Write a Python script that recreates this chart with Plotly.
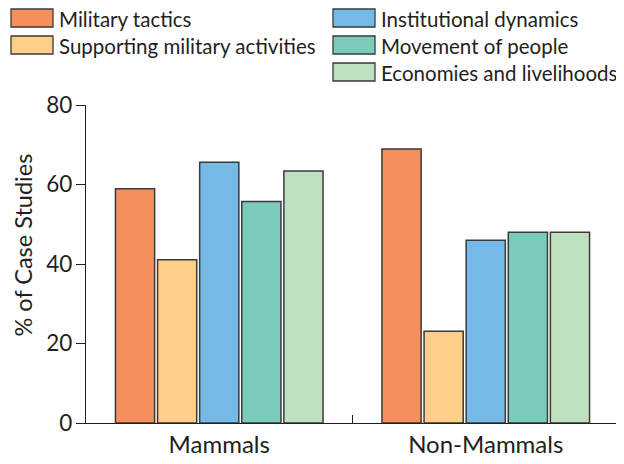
import plotly.graph_objects as go

categories = ["Mammals", "Non-Mammals"]
series_names = ["Military tactics", "Supporting military activities", "Institutional dynamics",
                "Movement of people", "Economies and livelihoods"]
military_tactics = [58.9, 68.9]
supporting_military = [41.1, 23.1]
institutional_dynamics = [65.6, 46.0]
movement_of_people = [55.7, 48.0]
economies_livelihoods = [63.4, 48.0]
series_values = [military_tactics, supporting_military, institutional_dynamics,
                 movement_of_people, economies_livelihoods]
colors = ["#F68F5E", "#FDCF8B", "#75B9E6", "#7ACBBA", "#BDE0BF"]
y_ticks = [0, 20, 40, 60, 80]

# page body has an 8px margin, so the figure is made 8px smaller and
# all target pixel positions are shifted by that offset
OFF = 8
W, H = 624 - OFF, 464 - OFF
L, R, T, B = 86 - OFF, 5, 105 - OFF, 41
FONT = "Lato"
TXT = "#231F20"

fig = go.Figure()
for name, vals, col in zip(series_names, series_values, colors):
    fig.add_trace(go.Bar(x=categories, y=vals, name=name, marker_color=col,
                         marker_line_color="#3A3A3A", marker_line_width=1.5,
                         showlegend=False))

def px(x):
    return (x - OFF - L) / (W - L - R)

def py(y):
    return (H - B - (y - OFF)) / (H - T - B)

# legend drawn manually: (swatch left, swatch top) in screen pixels
legend_slots = [(11, 9), (11, 36), (333, 9), (333, 36), (333, 63)]
shapes = []
annotations = []
for (sx, sy), name, col in zip(legend_slots, series_names, colors):
    shapes.append(dict(type="rect", xref="paper", yref="paper",
                       x0=px(sx), x1=px(sx + 42), y0=py(sy), y1=py(sy + 18),
                       fillcolor=col, line=dict(color="#3A3A3A", width=1.3)))
    annotations.append(dict(xref="paper", yref="paper", x=px(sx + 46), y=py(sy + 10),
                            text=name, showarrow=False, xanchor="left", yanchor="middle",
                            font=dict(family=FONT, size=20.5, color=TXT)))

annotations.append(dict(xref="paper", yref="paper", x=px(22), y=py(245.5),
                        text="% of Case Studies", textangle=-90, showarrow=False,
                        xanchor="center", yanchor="middle",
                        font=dict(family=FONT, size=23.5, color=TXT)))

fig.update_layout(
    width=W, height=H,
    margin=dict(l=L, r=R, t=T, b=B, pad=0),
    paper_bgcolor="white", plot_bgcolor="white",
    barmode="group", bargap=0.21, bargroupgap=0.07,
    shapes=shapes, annotations=annotations,
    font=dict(family=FONT, color=TXT),
)
fig.update_xaxes(type="category", showline=True, linecolor="#231F20", linewidth=1.3,
                 ticks="inside", tickson="boundaries", ticklen=8, tickcolor="#231F20",
                 tickwidth=1.3, showgrid=False, zeroline=False, automargin=False,
                 tickfont=dict(family=FONT, size=24, color=TXT))
fig.update_yaxes(range=[0, 80], tickvals=y_ticks, showline=True, linecolor="#231F20",
                 linewidth=1.3, ticks="outside", ticklen=9, tickcolor="#231F20",
                 tickwidth=1.3, showgrid=False, zeroline=False, automargin=False,
                 ticklabelstandoff=-1,
                 tickfont=dict(family=FONT, size=22.5, color=TXT))

fig.write_html("out.html")
